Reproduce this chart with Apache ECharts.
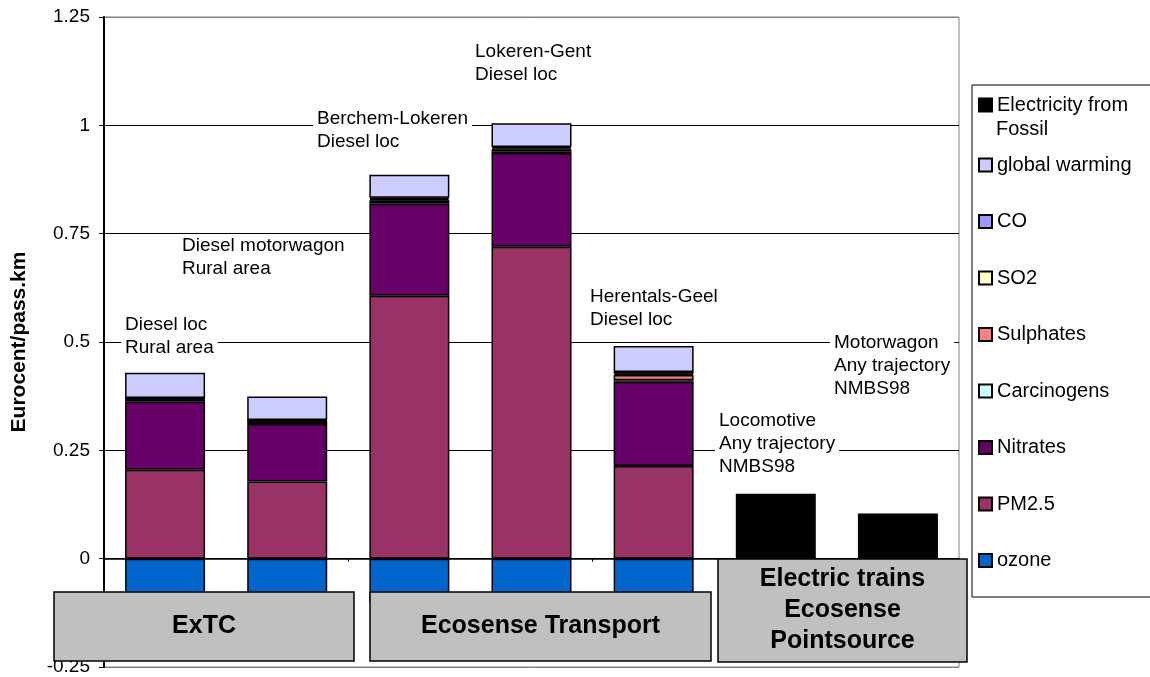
<!DOCTYPE html>
<html>
<head>
<meta charset="utf-8">
<script src="https://cdn.jsdelivr.net/npm/echarts@6/dist/echarts.min.js"></script>
<style>
  html, body { margin: 0; padding: 0; background: #fff; }
  #chart { width: 1150px; height: 677px; }
</style>
</head>
<body>
<div id="chart"></div>
<script>
// categories (one per bar)
const categories = ['Diesel loc Rural area', 'Diesel motorwagon Rural area', 'Berchem-Lokeren', 'Lokeren-Gent', 'Herentals-Geel', 'Locomotive', 'Motorwagon'];

// values in Eurocent/pass.km, stacked bottom -> top
const ozone = [-0.1, -0.1, -0.1, -0.1, -0.1, '-', '-'];
const pm25 = [0.205, 0.178, 0.607, 0.720, 0.214, '-', '-'];
const nitrates = [0.157, 0.133, 0.212, 0.216, 0.194, '-', '-'];
const carcinogens = [0.006, 0.006, 0.004, 0.004, 0.004, '-', '-'];
const sulphates = [0.001, 0.001, 0.004, 0.004, 0.012, '-', '-'];
const so2 = [0.001, 0.001, 0.003, 0.003, 0.003, '-', '-'];
const co = [0.001, 0.001, 0.003, 0.003, 0.004, '-', '-'];
const globalWarming = [0.058, 0.054, 0.053, 0.055, 0.060, '-', '-'];
const electricity = ['-', '-', '-', '-', '-', 0.150, 0.104];

const seriesDefs = [
    ['ozone', ozone, '#0066CC'],
    ['PM2.5', pm25, '#993366'],
    ['Nitrates', nitrates, '#660066'],
    ['Carcinogens', carcinogens, '#CCFFFF'],
    ['Sulphates', sulphates, '#FF8080'],
    ['SO2', so2, '#FFFFCC'],
    ['CO', co, '#9999FF'],
    ['global warming', globalWarming, '#CCCCFF'],
    ['Electricity from Fossil', electricity, '#000000']
];

const FONT = "'Liberation Sans', Arial, sans-serif";

const chart = echarts.init(document.getElementById('chart'));

// text notes above the bars
const notes = [
    ['Diesel loc\nRural area', 121, 313],
    ['Diesel motorwagon\nRural area', 178, 234],
    ['Berchem-Lokeren\nDiesel loc', 313, 107],
    ['Lokeren-Gent\nDiesel loc', 471, 40],
    ['Herentals-Geel\nDiesel loc', 586, 285],
    ['Motorwagon\nAny trajectory\nNMBS98', 830, 331],
    ['Locomotive\nAny trajectory\nNMBS98', 715, 409]
];

// group boxes under the axis
const groups = [
    ['ExTC', 54, 592, 300, 69],
    ['Ecosense Transport', 370, 592, 341, 69],
    ['Electric trains\nEcosense\nPointsource', 718, 559, 249, 103]
];

const graphic = [
    {
        type: 'rect', z: 1,
        shape: { x: 972, y: 85, width: 200, height: 512 },
        style: { fill: '#fff', stroke: '#000', lineWidth: 1 }
    },
    {
        // second line of the first legend entry
        type: 'text', z: 50, x: 996, y: 129,
        style: { text: 'Fossil', font: '20px ' + FONT, fill: '#000', verticalAlign: 'middle' }
    }
];
notes.forEach(([t, x, y]) => {
    graphic.push({
        type: 'text', z: 50, x, y,
        style: {
            text: t, font: '19px ' + FONT, fill: '#000', lineHeight: 23,
            backgroundColor: '#fff', padding: [0, 4, 0, 4]
        }
    });
});
groups.forEach(([t, x, y, w, h]) => {
    graphic.push({
        type: 'rect', z: 100,
        shape: { x, y, width: w, height: h },
        style: { fill: '#C0C0C0', stroke: '#000', lineWidth: 1.5 }
    });
    graphic.push({
        type: 'text', z: 101, x: x + w / 2, y: y + h / 2,
        style: {
            text: t, font: 'bold 25px ' + FONT, fill: '#000', lineHeight: 31,
            align: 'center', verticalAlign: 'middle'
        }
    });
});

const option = {
    animation: false,
    backgroundColor: '#fff',
    textStyle: { fontFamily: FONT },
    grid: {
        left: 104, right: 191, top: 17, bottom: 10,
        show: true, borderColor: '#808080', borderWidth: 1, backgroundColor: 'transparent'
    },
    legend: [
        {
            data: ['Electricity from Fossil'],
            left: 978, top: 93, orient: 'vertical', padding: 0,
            icon: 'rect', itemWidth: 13, itemHeight: 13,
            formatter: () => 'Electricity from',
            textStyle: { fontSize: 20, color: '#000', lineHeight: 24 },
            selectedMode: false
        },
        {
            data: ['global warming', 'CO', 'SO2', 'Sulphates', 'Carcinogens', 'Nitrates', 'PM2.5', 'ozone'],
            left: 978, top: 153, orient: 'vertical', padding: 0,
            icon: 'rect', itemWidth: 13, itemHeight: 13, itemGap: 32.5,
            textStyle: { fontSize: 20, color: '#000', lineHeight: 24 },
            selectedMode: false
        }
    ],
    xAxis: {
        type: 'category',
        data: categories,
        axisLine: { onZero: true, lineStyle: { color: '#000', width: 1.5 } },
        axisTick: { show: true, length: 3, lineStyle: { color: '#000' } },
        axisLabel: { show: false },
        splitLine: { show: false }
    },
    yAxis: {
        type: 'value',
        min: -0.25, max: 1.25, interval: 0.25,
        axisLine: { show: true, lineStyle: { color: '#000', width: 2 } },
        axisTick: { show: true, length: 5, lineStyle: { color: '#000' } },
        axisLabel: { fontSize: 19, color: '#000', margin: 14 },
        splitLine: { lineStyle: { color: ['#808080', '#000', '#000', '#000', '#000', '#000', '#808080'], width: 1 } },
        name: 'Eurocent/pass.km',
        nameLocation: 'middle',
        nameGap: 74,
        nameTextStyle: { fontSize: 21, fontWeight: 'bold', color: '#000' }
    },
    series: seriesDefs.map(([name, data, color]) => ({
        name, type: 'bar', stack: 'total', data,
        barWidth: 80,
        itemStyle: { color, borderColor: '#000', borderWidth: 1.5 }
    })),
    graphic
};

chart.setOption(option);
</script>
</body>
</html>
